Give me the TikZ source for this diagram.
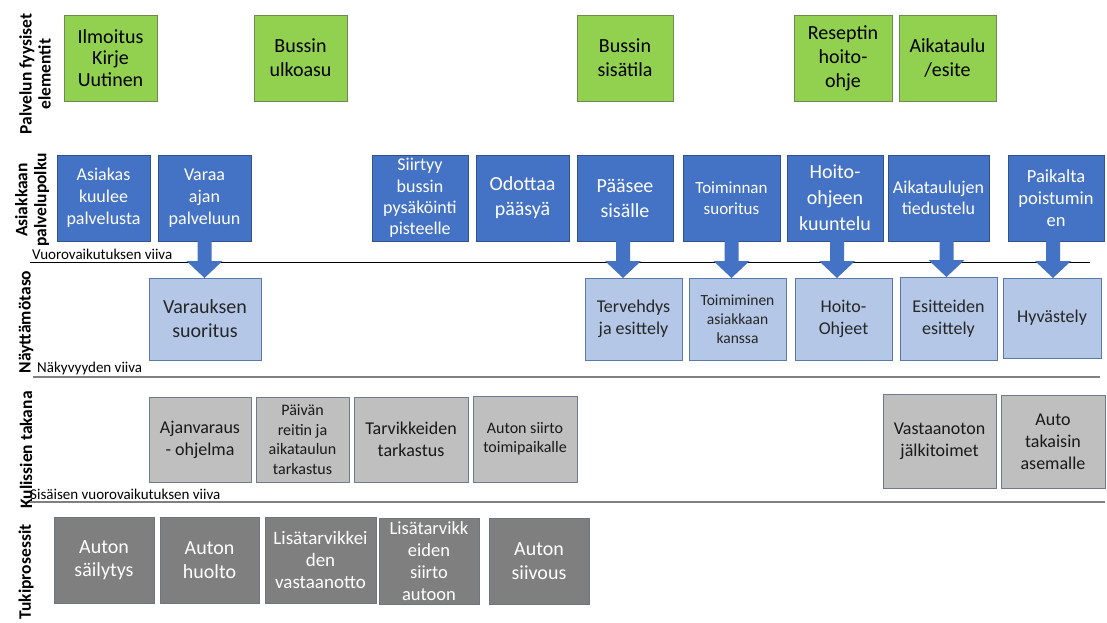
\documentclass[tikz,border=0pt]{standalone}
\usepackage{fontspec}
\setmainfont{Carlito}
\usetikzlibrary{calc}

\definecolor{grfill}{HTML}{92D050}
\definecolor{grline}{HTML}{6D8A52}
\definecolor{bufill}{HTML}{4472C4}
\definecolor{buline}{HTML}{2F528F}
\definecolor{lbfill}{HTML}{B4C7E7}
\definecolor{lbline}{HTML}{5A78A8}
\definecolor{gyfill}{HTML}{BFBFBF}
\definecolor{gyline}{HTML}{6F7A8A}
\definecolor{dgfill}{HTML}{7F7F7F}
\definecolor{dgline}{HTML}{6F7580}
\definecolor{divider}{HTML}{808080}

% one box given by its corners (in px): style, name, x1, y1, x2, y2, text
\newcommand\blk[7]{%
  \node[#1, minimum width={#5-#3}, minimum height={#6-#4}]
    (#2) at ({(#3+#5)/2},{(#4+#6)/2}) {#7};}

% block arrow from a customer step down to its onstage action
\newcommand\flowarrow[3][0pt]{%
  \fill[bufill] let \p1=($(#2.south)+(#1,0)$), \p2=(#3.north) in
    (\x1-7pt,\y1) -- (\x1+7pt,\y1) -- (\x1+7pt,\y2+17pt) --
    (\x1+18pt,\y2+17pt) -- (\x1,\y2) -- (\x1-18pt,\y2+17pt) --
    (\x1-7pt,\y2+17pt) -- cycle;}

\tikzset{
  fs/.style 2 args={font=\fontsize{#1}{#2}\selectfont},
  base/.style={rectangle, inner sep=0pt, outer sep=0pt, align=center, line width=0.9pt},
  greenbox/.style={base, fill=grfill, draw=grline, text=black},
  bluebox/.style={base, fill=bufill, draw=buline, text=white},
  lightbox/.style={base, fill=lbfill, draw=lbline, text=black!85},
  graybox/.style={base, fill=gyfill, draw=gyline, text=black!90},
  darkbox/.style={base, fill=dgfill, draw=dgline, text=white},
  rowlabel/.style={rotate=90, align=center, inner sep=0pt,
    font=\fontsize{17.5}{19}\selectfont\bfseries},
  linelabel/.style={anchor=base west, inner sep=0pt,
    font=\fontsize{15}{18}\selectfont},
}

\begin{document}
\begin{tikzpicture}[x=1pt,y=-1pt]
\fill[white] (0,0) rectangle (1107,622);
\useasboundingbox (0,0) rectangle (1107,622);

% lane labels
\node[rowlabel] (lane1) at (35,74) {Palvelun fyysiset\\elementit};
\node[rowlabel] (lane2) at (32,200) {Asiakkaan\\palvelupolku};
\node[rowlabel] (lane3) at (26,322) {Näyttämötaso};
\node[rowlabel] (lane4) at (26,450) {Kulissien takana};
\node[rowlabel] (lane5) at (26,572) {Tukiprosessit};

% dividing lines
\coordinate (l1a) at (30,262.5); \coordinate (l1b) at (1090,262.5);
\coordinate (l2a) at (33,377);   \coordinate (l2b) at (1100,377);
\coordinate (l3a) at (30,502);   \coordinate (l3b) at (1105,502);
\draw[black, line width=0.9pt] (l1a) -- (l1b);
\draw[divider, line width=1.5pt] (l2a) -- (l2b);
\draw[divider, line width=1.5pt] (l3a) -- (l3b);
\node[linelabel] (t1) at (32,259) {Vuorovaikutuksen viiva};
\node[linelabel] (t2) at (37,372) {Näkyvyyden viiva};
\node[linelabel] (t3) at (30,499) {Sisäisen vuorovaikutuksen viiva};

% physical evidence
\blk{greenbox,fs={20}{21.5}}{g1}{64}{15}{157}{101}{Ilmoitus\\Kirje\\Uutinen}
\blk{greenbox,fs={20}{24}}{g2}{254}{15}{347}{101}{Bussin\\ulkoasu}
\blk{greenbox,fs={20}{24}}{g3}{577}{15}{673}{101}{Bussin\\sisätila}
\blk{greenbox,fs={20}{24}}{g4}{794}{15}{892}{101}{Reseptin\\hoito-\\ohje}
\blk{greenbox,fs={20}{24}}{g5}{899}{15}{996}{101}{Aikataulu\\/esite}

% customer actions
\blk{bluebox,fs={18}{22}}{b1}{57}{155}{150}{241}{Asiakas\\kuulee\\palvelusta}
\blk{bluebox,fs={18}{22}}{b2}{158}{155}{251}{241}{Varaa\\ajan\\palveluun}
\blk{bluebox,fs={18}{21.5}}{b3}{372}{155}{468}{241}{Siirtyy\\bussin\\pysäköinti\\pisteelle}
\blk{bluebox,fs={20}{25}}{b4}{476}{155}{569}{241}{Odottaa\\pääsyä}
\blk{bluebox,fs={20}{25}}{b5}{577}{155}{673}{241}{Pääsee\\sisälle}
\blk{bluebox,fs={17}{21}}{b6}{683}{155}{780}{241}{Toiminnan\\suoritus}
\blk{bluebox,fs={20}{26}}{b7}{787}{155}{883}{241}{Hoito-\\ohjeen\\kuuntelu}
\blk{bluebox,fs={18}{21}}{b8}{888}{155}{989}{241}{Aikataulujen\\tiedustelu}
\blk{bluebox,fs={18.5}{22}}{b9}{1008}{155}{1104}{241}{Paikalta\\poistumin\\en}

% onstage actions
\blk{lightbox,fs={20}{24}}{s1}{149}{278}{261}{360}{Varauksen\\suoritus}
\blk{lightbox,fs={18}{22.5}}{s2}{585}{278}{682}{360}{Tervehdys\\ja esittely}
\blk{lightbox,fs={15.5}{19}}{s3}{689}{278}{786}{360}{Toimiminen\\asiakkaan\\kanssa}
\blk{lightbox,fs={18}{22.5}}{s4}{795}{278}{892}{360}{Hoito-\\Ohjeet}
\blk{lightbox,fs={18}{22.5}}{s5}{900}{277}{997}{360}{Esitteiden\\esittely}
\blk{lightbox,fs={18}{22}}{s6}{1003}{278}{1101}{358}{Hyvästely}

% backstage actions
\blk{graybox,fs={18}{21.7}}{k1}{149}{397}{251}{482}{Ajanvaraus\\- ohjelma}
\blk{graybox,fs={16}{19.4}}{k2}{256}{397}{349}{482}{Päivän\\reitin ja\\aikataulun\\tarkastus}
\blk{graybox,fs={18}{21.7}}{k3}{354}{397}{468}{482}{Tarvikkeiden\\tarkastus}
\blk{graybox,fs={16}{19}}{k4}{473}{396}{577}{482}{Auton siirto\\toimipaikalle}
\blk{graybox,fs={18}{21.7}}{k5}{883}{394}{996}{488}{Vastaanoton\\jälkitoimet}
\blk{graybox,fs={18}{22}}{k6}{1001}{395}{1105}{488}{Auto\\takaisin\\asemalle}

% support processes
\blk{darkbox,fs={20}{23.5}}{d1}{54}{517}{154}{603}{Auton\\säilytys}
\blk{darkbox,fs={20}{23.5}}{d2}{160}{517}{259}{603}{Auton\\huolto}
\blk{darkbox,fs={19}{21.7}}{d3}{265}{517}{376}{603}{Lisätarvikkei\\den\\vastaanotto}
\blk{darkbox,fs={18.5}{22}}{d4}{379}{518}{479}{604}{Lisätarvikk\\eiden\\siirto\\autoon}
\blk{darkbox,fs={20}{24}}{d5}{489}{518}{589}{604}{Auton\\siivous}

% line of interaction arrows
\flowarrow{b2}{s1}
\flowarrow[-2pt]{b5}{s2}
\flowarrow{b6}{s3}
\flowarrow[2pt]{b7}{s4}
\flowarrow[8pt]{b8}{s5}
\flowarrow[-3pt]{b9}{s6}
\end{tikzpicture}
\end{document}
